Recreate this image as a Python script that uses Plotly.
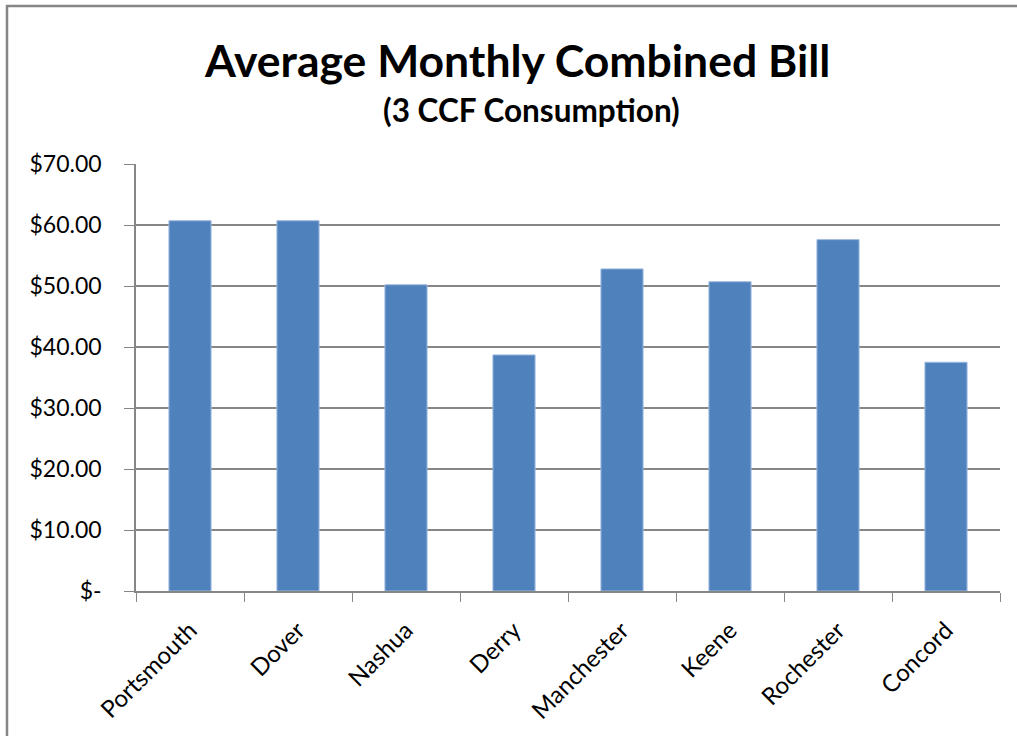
import plotly.graph_objects as go

cities = ["Portsmouth", "Dover", "Nashua", "Derry", "Manchester", "Keene", "Rochester", "Concord"]
bills = [60.7, 60.7, 50.2, 38.7, 52.8, 50.7, 57.6, 37.5]
ytick_vals = [0, 10, 20, 30, 40, 50, 60, 70]
ytick_text = ["$-", "$10.00", "$20.00", "$30.00", "$40.00", "$50.00", "$60.00", "$70.00"]

W, H = 1017, 736
L, R, T, B = 136, 17, 164, 736 - 591
pw = W - L - R
ph = H - T - B

FONT = "Lato, Open Sans, sans-serif"

fig = go.Figure()
fig.add_trace(go.Bar(
    x=cities, y=bills,
    marker=dict(color="#4F81BD", line=dict(color="#9DB9DF", width=1)),
))

def px2paper_x(px):
    return (px - L) / pw

def px2paper_y(py):
    return (H - B - py) / ph

border = dict(color="#868686", width=2.5)

fig.update_layout(
    width=W, height=H,
    margin=dict(l=L, r=R, t=T, b=B),
    paper_bgcolor="white", plot_bgcolor="white",
    bargap=0.61,
    showlegend=False,
    font=dict(family=FONT, color="#000000"),
    xaxis=dict(
        tickangle=-45,
        tickfont=dict(size=24, color="#000000"),
        showline=True, linecolor="#868686", linewidth=1.5,
        ticks="outside", ticklen=9, tickcolor="#868686", tickwidth=1,
        tickson="boundaries",
        ticklabelstandoff=14,
        showgrid=False,
    ),
    yaxis=dict(
        range=[0, 70],
        tickvals=ytick_vals, ticktext=ytick_text,
        tickfont=dict(size=23, color="#000000"),
        showline=True, linecolor="#868686", linewidth=1.5,
        ticks="outside", ticklen=10, tickcolor="#868686", tickwidth=1,
        ticklabelstandoff=18,
        showgrid=True, gridcolor="#868686", gridwidth=1.5,
        zeroline=False,
    ),
    annotations=[
        dict(text="<b>Average Monthly Combined Bill</b>", x=px2paper_x(517), y=px2paper_y(60),
             xref="paper", yref="paper", showarrow=False, xanchor="center", yanchor="middle",
             font=dict(size=44.5, family=FONT, color="#000000")),
        dict(text="<b>(3 CCF Consumption)</b>", x=px2paper_x(531), y=px2paper_y(110),
             xref="paper", yref="paper", showarrow=False, xanchor="center", yanchor="middle",
             font=dict(size=31.5, family=FONT, color="#000000")),
    ],
    shapes=[
        dict(type="line", xref="paper", yref="paper",
             x0=px2paper_x(7), x1=px2paper_x(7), y0=px2paper_y(740), y1=px2paper_y(5),
             line=border, layer="above"),
        dict(type="line", xref="paper", yref="paper",
             x0=px2paper_x(6), x1=px2paper_x(1020), y0=px2paper_y(6), y1=px2paper_y(6),
             line=border, layer="above"),
    ],
)

fig.write_html(
    "out.html",
    config={"displayModeBar": False},
    post_script="document.body.style.margin='0';document.body.style.overflow='hidden';",
)
